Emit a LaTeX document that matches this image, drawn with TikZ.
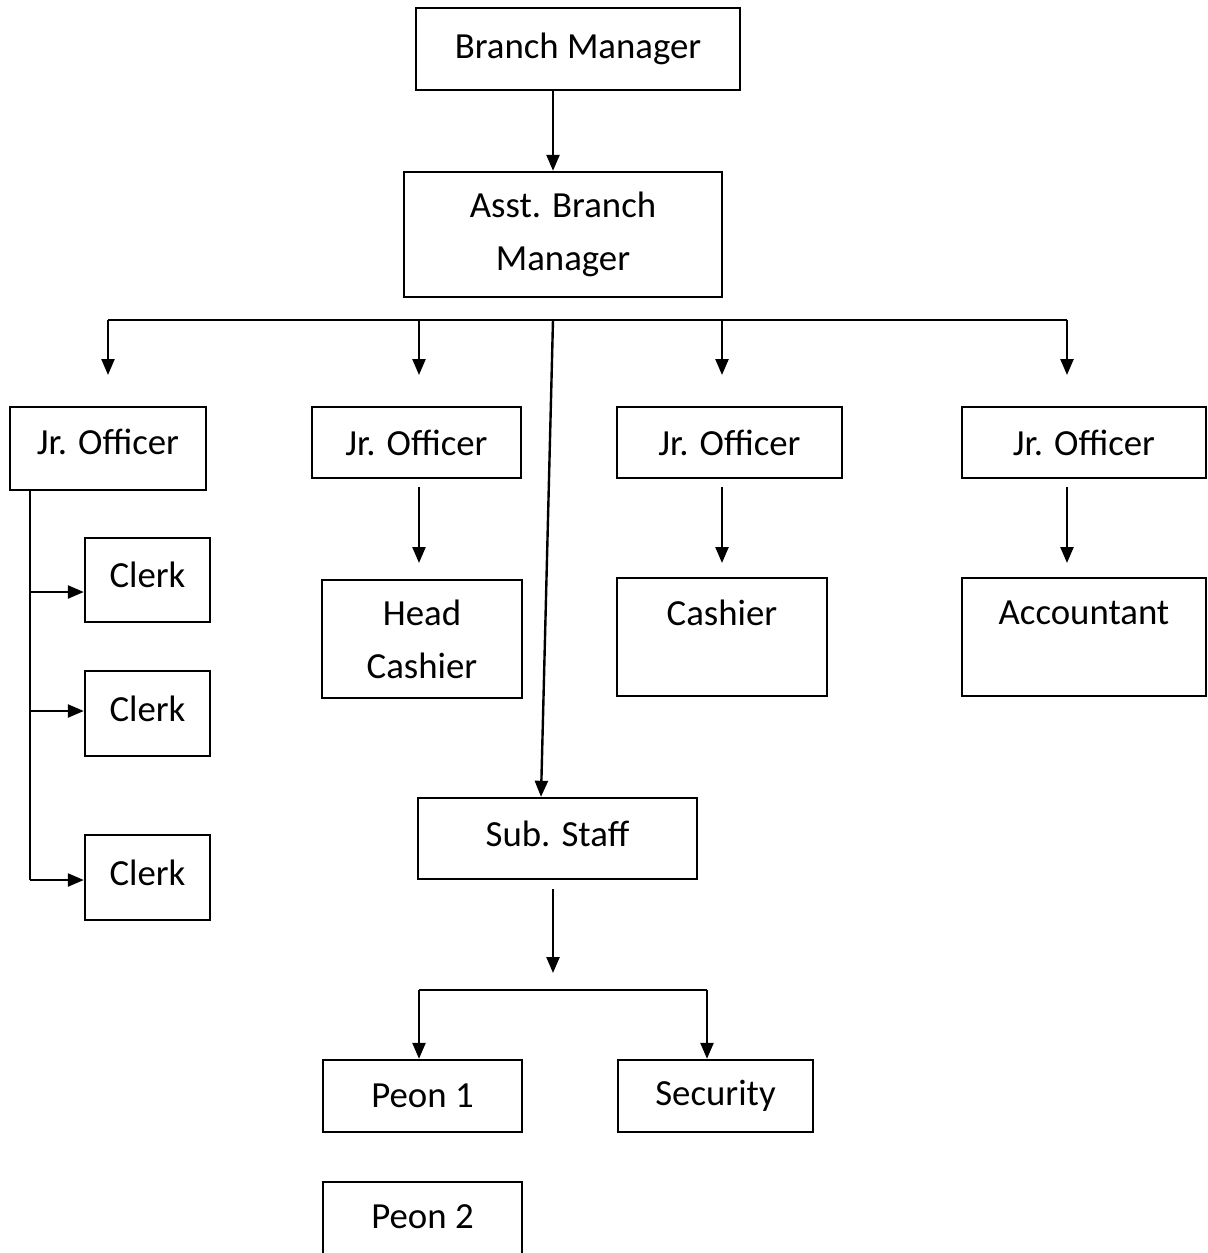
\documentclass[tikz,border=0pt]{standalone}
\usepackage{fontspec}
\setmainfont{Carlito}
\usetikzlibrary{arrows.meta}
\begin{document}
\begin{tikzpicture}[x=0.5pt,y=-0.5pt,
  box/.style={draw,line width=1.2pt,inner sep=0pt,align=center,font=\fontsize{18.4}{26.5}\selectfont},
  conn/.style={line width=1.2pt},
  arr/.style={line width=1.2pt,-{Triangle[width=6.5pt,length=8pt]}}]
\useasboundingbox (0,0) rectangle (1208,1253);
% boxes
\node[box,minimum width=162pt,minimum height=41pt] (bm) at (578,49) {Branch Manager};
\node[box,minimum width=159pt,minimum height=62.5pt] (abm) at (563,234.5) {Asst. Branch\\Manager};
\node[box,minimum width=98pt,minimum height=41.5pt] (jo1) at (108,448.5) {Jr. Officer\\[-20pt]\mbox{}};
\node[box,minimum width=104.5pt,minimum height=35.5pt] (jo2) at (416.5,442.5) {Jr. Officer};
\node[box,minimum width=112.5pt,minimum height=35.5pt] (jo3) at (729.5,442.5) {Jr. Officer};
\node[box,minimum width=122pt,minimum height=35.5pt] (jo4) at (1084,442.5) {Jr. Officer};
\node[box,minimum width=62.5pt,minimum height=42pt] (c1) at (147.5,580) {Clerk\\[-21.5pt]\mbox{}};
\node[box,minimum width=62.5pt,minimum height=42.5pt] (c2) at (147.5,713.5) {Clerk\\[-21.5pt]\mbox{}};
\node[box,minimum width=62.5pt,minimum height=42.5pt] (c3) at (147.5,877.5) {Clerk\\[-21.5pt]\mbox{}};
\node[box,minimum width=100pt,minimum height=59pt] (hc) at (422,639) {Head\\Cashier};
\node[box,minimum width=105pt,minimum height=59pt] (cash) at (722,637) {Cashier\\[-2.5pt]\mbox{}};
\node[box,minimum width=122pt,minimum height=59pt] (acc) at (1084,637) {Accountant\\[-2.5pt]\mbox{}};
\node[box,minimum width=139.5pt,minimum height=40.5pt] (sub) at (557.5,838.5) {Sub. Staff\\[-22pt]\mbox{}};
\node[box,minimum width=99.5pt,minimum height=36pt] (p1) at (422.5,1096) {Peon 1};
\node[box,minimum width=97.5pt,minimum height=36pt] (sec) at (715.5,1096) {Security};
\node[box,minimum width=99.5pt,minimum height=40pt] (p2) at (422.5,1222) {Peon 2\\[-21.5pt]\mbox{}};
% coordinates
\coordinate (bus) at (553,320);
\coordinate (busL) at (108,320);
\coordinate (busR) at (1067,320);
\coordinate (t1) at (108,375);
\coordinate (t2) at (419,375);
\coordinate (t3) at (722,375);
\coordinate (t4) at (1067,375);
\coordinate (cl) at (30,880);
\coordinate (sd) at (553,973);
\coordinate (pbus) at (419,990);
\coordinate (pbusR) at (707,990);
% connectors
\draw[arr] (bm.south -| bus) -- (abm.north -| bus);
\draw[conn] (busL) -- (busR);
\draw[arr] (busL) -- (t1);
\draw[arr] (bus -| t2) -- (t2);
\draw[arr] (bus -| t3) -- (t3);
\draw[arr] (busR) -- (t4);
\draw[arr] (bus) -- (541,0 |- sub.north);
\draw[conn] (jo1.south -| cl) -- (cl);
\draw[arr] (cl |- 0,592) -- (c1.west |- 0,592);
\draw[arr] (cl |- 0,711) -- (c2.west |- 0,711);
\draw[arr] (cl) -- (c3.west |- cl);
\draw[arr] (419,487) -- (419,563);
\draw[arr] (722,487) -- (722,563);
\draw[arr] (1067,487) -- (1067,563);
\draw[arr] (sub.south -| sd) ++(0,9) -- (sd);
\draw[conn] (pbus) -- (pbusR);
\draw[arr] (pbus) -- (pbus |- p1.north);
\draw[arr] (pbusR) -- (pbusR |- sec.north);
\end{tikzpicture}
\end{document}
